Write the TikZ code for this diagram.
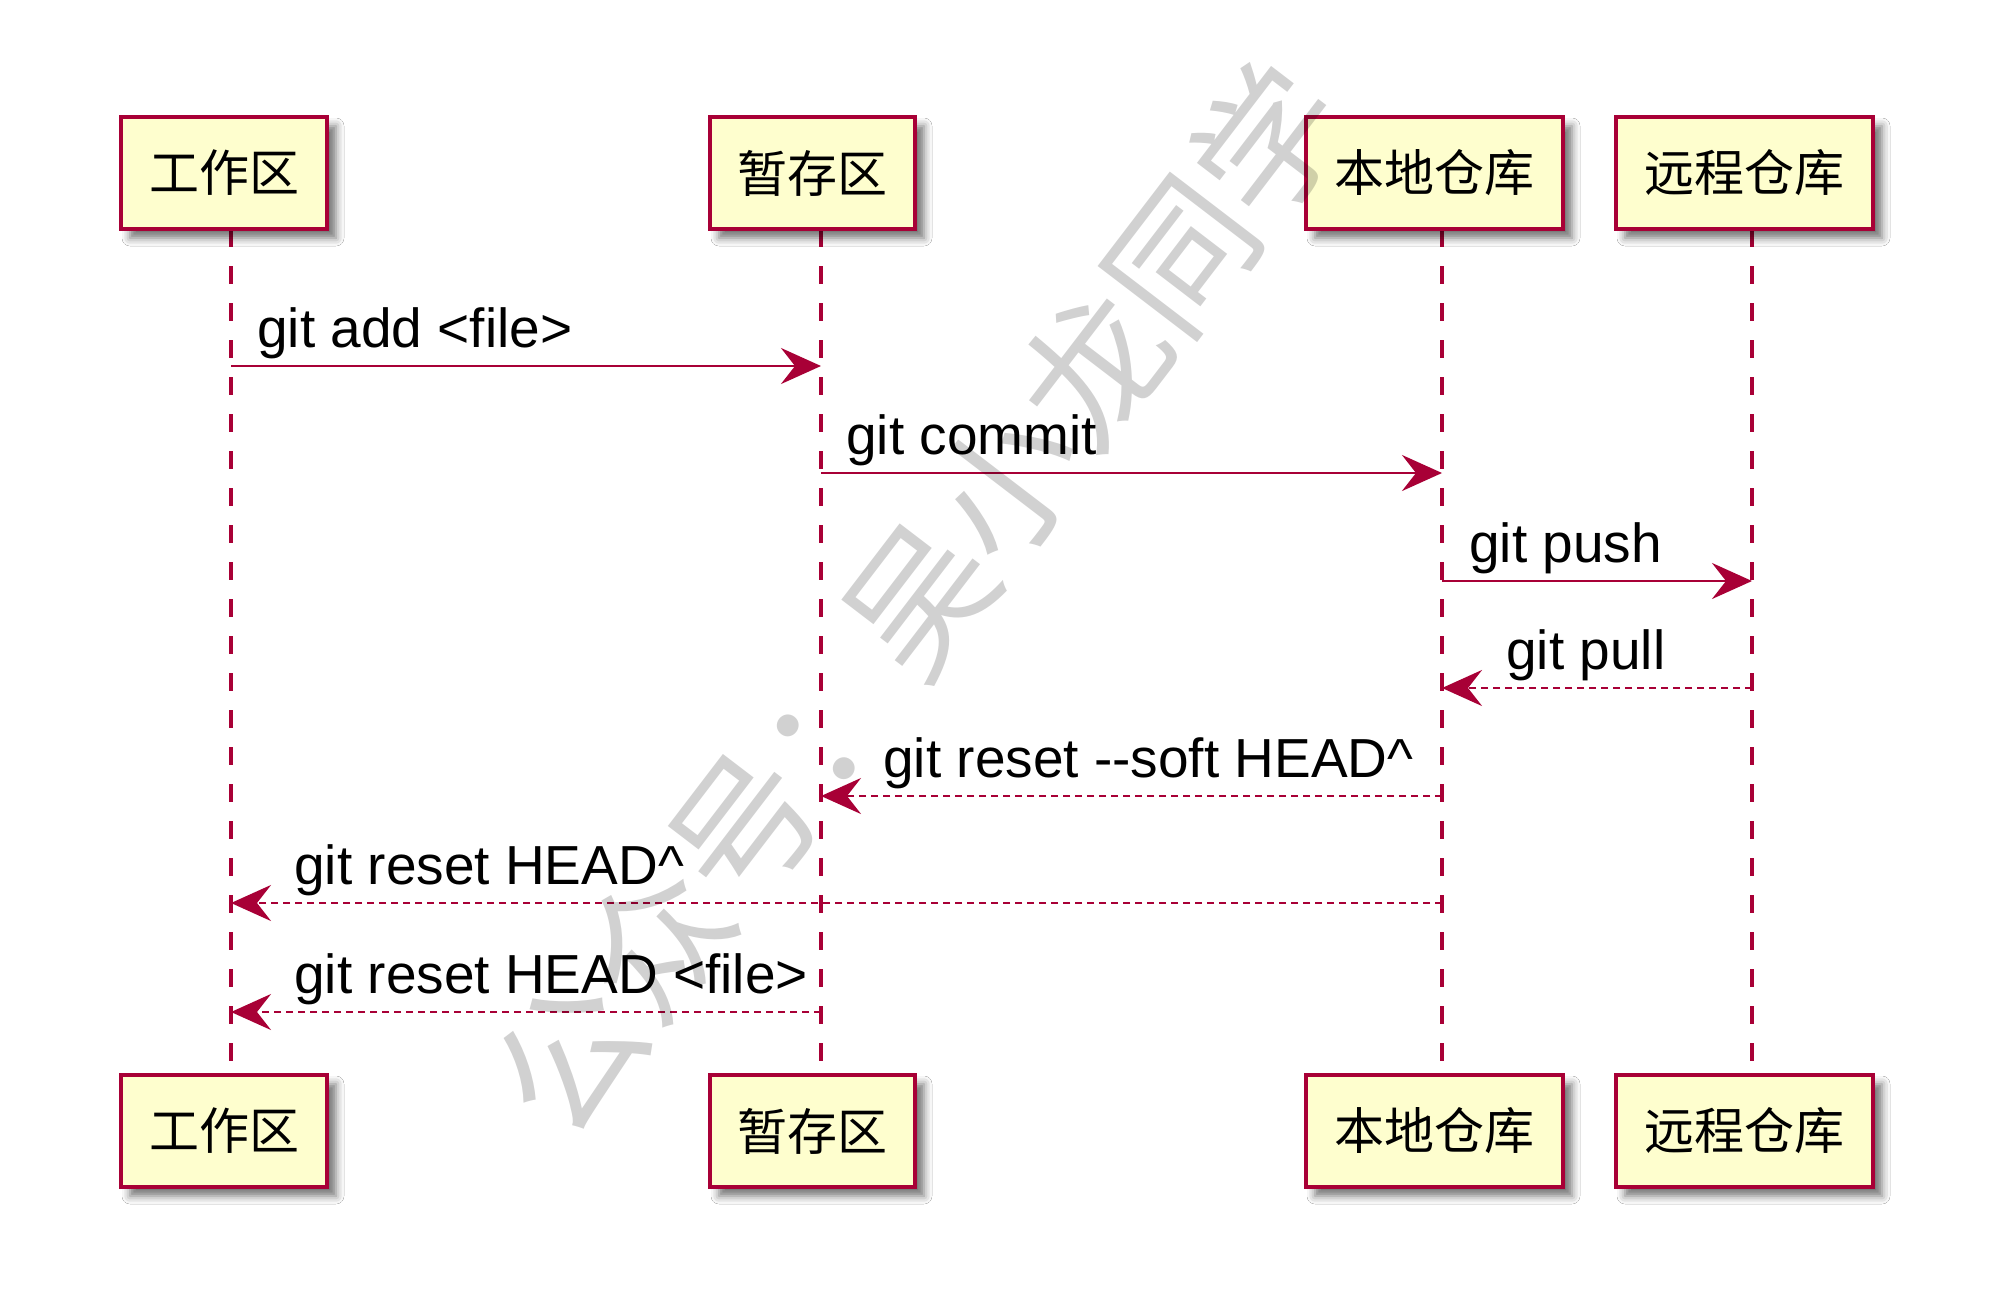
\documentclass[tikz,border=0pt]{standalone}
\usepackage{fontspec}
\setmainfont{Liberation Sans}
\newfontfamily\cjk{Noto Sans CJK SC}
\usetikzlibrary{arrows.meta,shadows.blur}
\definecolor{pumlred}{HTML}{A80036}
\definecolor{pumlfill}{HTML}{FEFECE}
\tikzset{
  actorbox/.style={draw=pumlred, line width=2pt, fill=pumlfill, minimum height=56pt,
    inner sep=0pt, font=\cjk\fontsize{25}{30}\selectfont,
    blur shadow={shadow xshift=4.5pt, shadow yshift=-4.5pt, shadow blur radius=4pt, shadow opacity=55}},
  lifeline/.style={draw=pumlred, line width=1.6pt, dash pattern=on 9pt off 9.5pt},
  msg/.style={draw=pumlred, line width=1.4pt, -{Stealth[length=20pt, width=18pt, inset=7pt, fill=pumlred]}},
  reply/.style={msg, dash pattern=on 3.5pt off 2.5pt},
  lbl/.style={anchor=base west, inner sep=0pt, font=\fontsize{27.5}{33}\selectfont},
  watermark/.style={text=black, text opacity=0.18, font=\cjk\fontsize{72}{72}\selectfont, rotate=52.6}
}
\begin{document}
\begin{tikzpicture}[x=0.5pt, y=-0.5pt]
\useasboundingbox[fill=white] (0,0) rectangle (1998,1312);
% lifeline coordinates
\coordinate (wt) at (231,229); \coordinate (wb) at (231,1074);
\coordinate (st) at (821,229); \coordinate (sb) at (821,1074);
\coordinate (lt) at (1442,229); \coordinate (lb) at (1442,1074);
\coordinate (rt) at (1752,229); \coordinate (rb) at (1752,1074);
\draw[lifeline] (wt) -- (wb);
\draw[lifeline] (st) -- (sb);
\draw[lifeline] (lt) -- (lb);
\draw[lifeline] (rt) -- (rb);
% participant boxes
\node[actorbox, minimum width=103pt] (w1) at (224,173) {工作区};
\node[actorbox, minimum width=102.5pt] (s1) at (812.5,173) {暂存区};
\node[actorbox, minimum width=128.5pt] (l1) at (1434.5,173) {本地仓库};
\node[actorbox, minimum width=128.5pt] (r1) at (1744.5,173) {远程仓库};
\node[actorbox, minimum width=103pt] (w2) at (224,1131) {工作区};
\node[actorbox, minimum width=102.5pt] (s2) at (812.5,1131) {暂存区};
\node[actorbox, minimum width=128.5pt] (l2) at (1434.5,1131) {本地仓库};
\node[actorbox, minimum width=128.5pt] (r2) at (1744.5,1131) {远程仓库};
% message rows
\coordinate (m1) at (0,366);
\coordinate (m2) at (0,473);
\coordinate (m3) at (0,581);
\coordinate (m4) at (0,688);
\coordinate (m5) at (0,796);
\coordinate (m6) at (0,903);
\coordinate (m7) at (0,1012);
\draw[msg] (wt |- m1) -- (st |- m1);
\draw[msg] (st |- m2) -- (lt |- m2);
\draw[msg] (lt |- m3) -- (rt |- m3);
\draw[reply] (rt |- m4) -- (lt |- m4);
\draw[reply] (lt |- m5) -- (st |- m5);
\draw[reply] (lt |- m6) -- (wt |- m6);
\draw[reply] (st |- m7) -- (wt |- m7);
\node[lbl] (t1) at (257,347) {git add <file>};
\node[lbl] (t2) at (846,454) {git commit};
\node[lbl] (t3) at (1469,562) {git push};
\node[lbl] (t4) at (1506,669) {git pull};
\node[lbl] (t5) at (883,777) {git reset -{}-soft HEAD\^{}};
\node[lbl] (t6) at (294,884) {git reset HEAD\^{}};
\node[lbl] (t7) at (294,993) {git reset HEAD <file>};
% watermark
\node[watermark] (wm) at (918,598) {公众号：吴小龙同学};
\end{tikzpicture}
\end{document}
